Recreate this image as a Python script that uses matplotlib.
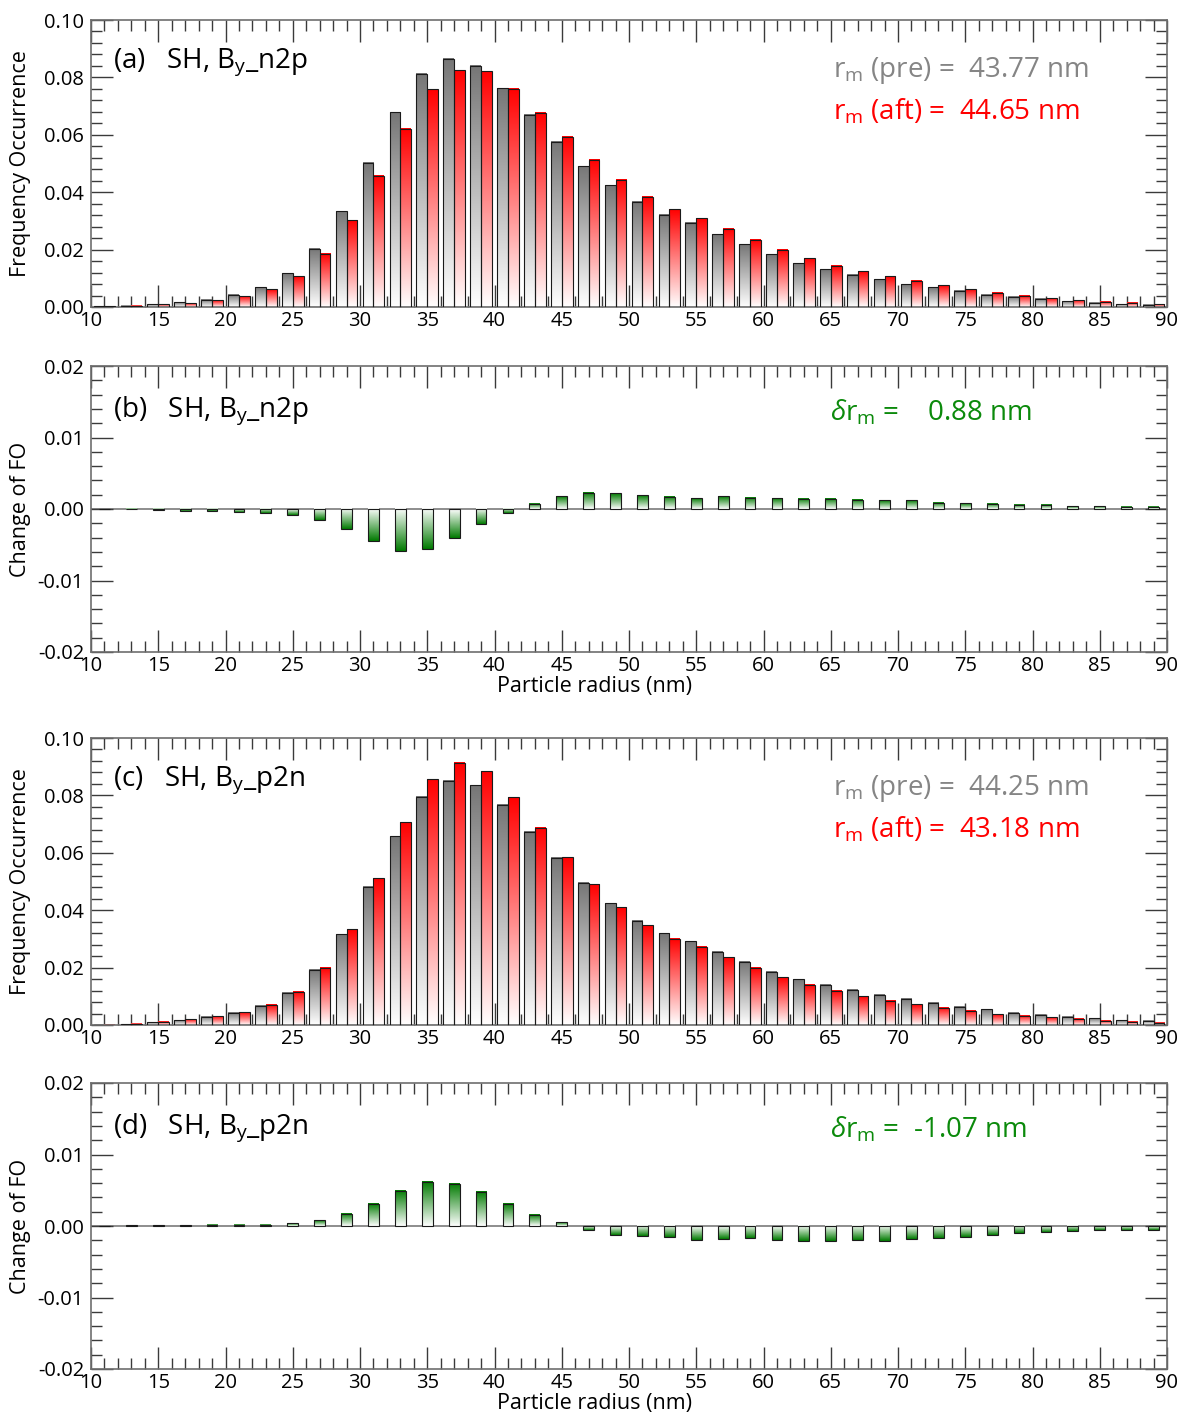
"""
Particle size distribution before / after By turning (SH).
Panels (a),(c): frequency occurrence pre (gray) vs aft (red).
Panels (b),(d): change of FO (aft - pre), green bars.

Output:
  out.png
"""

import numpy as np
import matplotlib
matplotlib.use("Agg")
import matplotlib.pyplot as plt
from matplotlib.colors import LinearSegmentedColormap
from matplotlib.ticker import MultipleLocator, FuncFormatter


plt.rcParams["font.family"] = ["Open Sans", "DejaVu Sans"]
plt.rcParams["mathtext.fontset"] = "custom"
plt.rcParams["mathtext.rm"] = "Open Sans"
plt.rcParams["mathtext.it"] = "Open Sans:italic"
plt.rcParams["mathtext.bf"] = "Open Sans:bold"


# ─── DATA ────────────────────────────────────────────────────────────────────

# bin centres, 2 nm bins between 10 and 90 nm
RADIUS = [11, 13, 15, 17, 19, 21, 23, 25, 27, 29,
          31, 33, 35, 37, 39, 41, 43, 45, 47, 49,
          51, 53, 55, 57, 59, 61, 63, 65, 67, 69,
          71, 73, 75, 77, 79, 81, 83, 85, 87, 89]

# (a) By_n2p
N2P_PRE = [0.0003, 0.0004, 0.0010, 0.0016, 0.0026, 0.0042, 0.0069, 0.0118, 0.0203, 0.0334,
           0.0502, 0.0678, 0.0812, 0.0865, 0.0841, 0.0763, 0.0670, 0.0576, 0.0491, 0.0425,
           0.0367, 0.0321, 0.0294, 0.0253, 0.0218, 0.0183, 0.0153, 0.0132, 0.0113, 0.0097,
           0.0080, 0.0069, 0.0056, 0.0043, 0.0035, 0.0028, 0.0020, 0.0015, 0.0009, 0.0007]
N2P_AFT = [0.0002, 0.0004, 0.0009, 0.0013, 0.0023, 0.0038, 0.0062, 0.0108, 0.0185, 0.0303,
           0.0457, 0.0621, 0.0758, 0.0825, 0.0821, 0.0761, 0.0676, 0.0593, 0.0513, 0.0444,
           0.0385, 0.0340, 0.0309, 0.0272, 0.0234, 0.0199, 0.0169, 0.0143, 0.0125, 0.0107,
           0.0092, 0.0076, 0.0062, 0.0049, 0.0040, 0.0031, 0.0024, 0.0019, 0.0014, 0.0009]

# (b) change of FO, By_n2p
N2P_DIFF = [0.0, -0.00005, -0.0002, -0.0003, -0.0003, -0.0004, -0.0006, -0.0008, -0.0016, -0.0028,
            -0.0045, -0.0059, -0.0056, -0.0040, -0.0021, -0.0006, 0.0007, 0.0018, 0.0023, 0.0022,
            0.0019, 0.0017, 0.0015, 0.0018, 0.0016, 0.0015, 0.0014, 0.0014, 0.0013, 0.0012,
            0.0012, 0.0009, 0.0008, 0.0007, 0.0006, 0.0006, 0.0004, 0.0004, 0.0003, 0.0003]

# (c) By_p2n
P2N_PRE = [0.0001, 0.0002, 0.0009, 0.0016, 0.0028, 0.0042, 0.0067, 0.0112, 0.0192, 0.0316,
           0.0481, 0.0657, 0.0795, 0.0851, 0.0836, 0.0767, 0.0673, 0.0583, 0.0495, 0.0424,
           0.0364, 0.0320, 0.0292, 0.0255, 0.0220, 0.0185, 0.0160, 0.0140, 0.0122, 0.0106,
           0.0091, 0.0077, 0.0064, 0.0055, 0.0042, 0.0035, 0.0028, 0.0023, 0.0017, 0.0014]
P2N_AFT = [0.0001, 0.0005, 0.0012, 0.0020, 0.0030, 0.0045, 0.0070, 0.0116, 0.0200, 0.0334,
           0.0512, 0.0706, 0.0857, 0.0913, 0.0885, 0.0794, 0.0687, 0.0585, 0.0491, 0.0410,
           0.0347, 0.0301, 0.0272, 0.0236, 0.0199, 0.0166, 0.0140, 0.0119, 0.0100, 0.0085,
           0.0072, 0.0060, 0.0049, 0.0038, 0.0033, 0.0027, 0.0021, 0.0015, 0.0012, 0.0008]

# (d) change of FO, By_p2n
P2N_DIFF = [0.0, 0.0001, 0.0001, 0.0001, 0.0002, 0.0002, 0.0002, 0.0004, 0.0008, 0.0017,
            0.0031, 0.0049, 0.0062, 0.0059, 0.0048, 0.0031, 0.0016, 0.0005, -0.0005, -0.0012,
            -0.0014, -0.0016, -0.0019, -0.0018, -0.0017, -0.0019, -0.0021, -0.0021, -0.0020, -0.0021,
            -0.0018, -0.0017, -0.0015, -0.0012, -0.0010, -0.0008, -0.0007, -0.0005, -0.0005, -0.0005]

X_TICKS = [10, 15, 20, 25, 30, 35, 40, 45, 50, 55, 60, 65, 70, 75, 80, 85, 90]

PANEL_LABELS = ["(a)   SH, B$_{\\mathrm{y}}$_n2p", "(b)   SH, B$_{\\mathrm{y}}$_n2p",
                "(c)   SH, B$_{\\mathrm{y}}$_p2n", "(d)   SH, B$_{\\mathrm{y}}$_p2n"]
RM_PRE = ["43.77", "44.25"]
RM_AFT = ["44.65", "43.18"]
DELTA_RM = ["0.88", "-1.07"]


# ─── STYLE ───────────────────────────────────────────────────────────────────

GRAY  = "#767676"
RED   = "#ff0000"
GREEN = "#007a00"
TXT_GRAY  = "#858585"
TXT_GREEN = "#0b8a0b"
SPINE = "#6e6e6e"
BAR_W = 0.8
TXT_SIZE = 20

FIG_W, FIG_H = 1181, 1414
AX_LEFT, AX_RIGHT = 91, 1167
# (top, bottom) pixel rows of each panel
PANEL_PX = [(20, 307), (366, 652), (738, 1025), (1083, 1369)]


def gradient_bars(ax, x, heights, color, edge="#1a1a1a"):
    """Bars whose fill fades from `color` at the tip to white at zero."""
    bars = ax.bar(x, heights, width=BAR_W, facecolor="none",
                  edgecolor=edge, linewidth=0.8, zorder=3)
    cmap = LinearSegmentedColormap.from_list("fade", ["white", color])
    grad = np.linspace(0, 1, 256).reshape(-1, 1)
    for rect in bars:
        x0, w = rect.get_x(), rect.get_width()
        y0, h = rect.get_y(), rect.get_height()
        if h == 0:
            continue
        lo, hi = min(y0, y0 + h), max(y0, y0 + h)
        img = grad if h > 0 else grad[::-1]
        ax.imshow(img, cmap=cmap, extent=(x0, x0 + w, lo, hi), origin="lower",
                  aspect="auto", interpolation="bilinear", zorder=2)
    return bars


def style_axis(ax, ylim, ymajor, yminor):
    ax.set_xlim(10, 90)
    ax.set_ylim(*ylim)
    ax.set_xticks(X_TICKS)
    ax.xaxis.set_minor_locator(MultipleLocator(1))
    ax.yaxis.set_major_locator(MultipleLocator(ymajor))
    ax.yaxis.set_minor_locator(MultipleLocator(yminor))
    ax.yaxis.set_major_formatter(FuncFormatter(
        lambda v, p: "0.00" if abs(v) < 1e-9 else f"{v:.2f}"))
    ax.tick_params(which="both", direction="in", top=True, right=True,
                   color="#3a3a3a", labelsize=14.5, width=1.0)
    ax.tick_params(which="major", length=16)
    ax.tick_params(which="minor", length=8)
    ax.tick_params(axis="y", pad=5)
    ax.tick_params(axis="x", pad=3)
    for sp in ax.spines.values():
        sp.set_color(SPINE)
        sp.set_linewidth(1.2)


def add_panel_axes(fig, top, bottom):
    return fig.add_axes([AX_LEFT / FIG_W, 1 - bottom / FIG_H,
                         (AX_RIGHT - AX_LEFT) / FIG_W, (bottom - top) / FIG_H])


# ─── PLOT ────────────────────────────────────────────────────────────────────

def plot_fo_panel(ax, pre, aft, label, rm_pre, rm_aft):
    style_axis(ax, (0, 0.10), 0.02, 0.004)
    x = np.array(RADIUS, dtype=float)
    gradient_bars(ax, x - BAR_W / 2, pre, GRAY)
    gradient_bars(ax, x + BAR_W / 2, aft, RED)
    ax.set_xlim(10, 90)
    ax.set_ylim(0, 0.10)

    ax.text(0.020, 0.835, label, transform=ax.transAxes, fontsize=TXT_SIZE, va="baseline")
    ax.text(0.690, 0.801, f"r$_{{\\mathrm{{m}}}}$ (pre) =  {rm_pre} nm",
            transform=ax.transAxes, fontsize=TXT_SIZE, color=TXT_GRAY, va="baseline")
    ax.text(0.690, 0.653, f"r$_{{\\mathrm{{m}}}}$ (aft) =  {rm_aft} nm",
            transform=ax.transAxes, fontsize=TXT_SIZE, color=RED, va="baseline")

    ax.set_ylabel("Frequency Occurrence", fontsize=15.5)
    ax.yaxis.set_label_coords(-0.056, 0.5)


def plot_diff_panel(ax, diff, label, delta):
    style_axis(ax, (-0.02, 0.02), 0.01, 0.002)
    ax.axhline(0, color="#7a7a7a", linewidth=1.2, zorder=1)
    gradient_bars(ax, RADIUS, diff, GREEN)
    ax.set_xlim(10, 90)
    ax.set_ylim(-0.02, 0.02)

    ax.text(0.020, 0.822, label, transform=ax.transAxes, fontsize=TXT_SIZE, va="baseline")
    ax.text(0.687, 0.808, f"$\\delta$r$_{{\\mathrm{{m}}}}$ =  {delta} nm",
            transform=ax.transAxes, fontsize=TXT_SIZE, color=TXT_GREEN, va="baseline")

    ax.set_ylabel("Change of FO", fontsize=15.5)
    ax.yaxis.set_label_coords(-0.056, 0.5)
    ax.set_xlabel("Particle radius (nm)", fontsize=15.5)
    ax.xaxis.set_label_coords(0.4675, -0.122)
    ax.xaxis.label.set_va("center")


if __name__ == "__main__":

    fig = plt.figure(figsize=(FIG_W / 100, FIG_H / 100), dpi=100)
    axes = [add_panel_axes(fig, t, b) for t, b in PANEL_PX]

    plot_fo_panel(axes[0], N2P_PRE, N2P_AFT, PANEL_LABELS[0], RM_PRE[0], RM_AFT[0])
    plot_diff_panel(axes[1], N2P_DIFF, PANEL_LABELS[1], "  " + DELTA_RM[0])
    plot_fo_panel(axes[2], P2N_PRE, P2N_AFT, PANEL_LABELS[2], RM_PRE[1], RM_AFT[1])
    plot_diff_panel(axes[3], P2N_DIFF, PANEL_LABELS[3], DELTA_RM[1])

    fig.savefig("out.png", dpi=100)
    plt.close(fig)
